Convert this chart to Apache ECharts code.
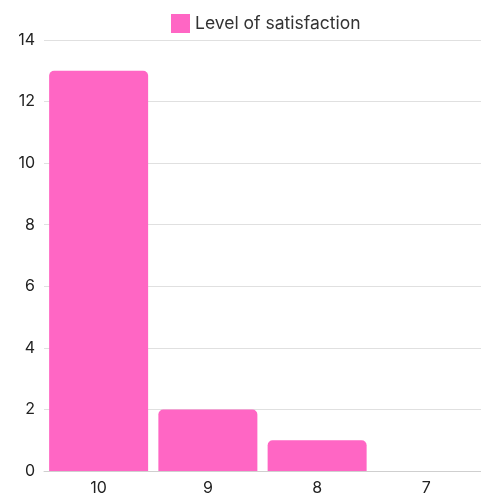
<!DOCTYPE html>
<html>
<head>
<meta charset="utf-8">
<script src="https://cdn.jsdelivr.net/npm/echarts@6/dist/echarts.min.js"></script>
<style>
  html, body { margin: 0; padding: 0; background: #fff; }
  #chart { width: 481px; height: 498px; }
</style>
</head>
<body>
<div id="chart"></div>
<script>
// satisfaction scores and how many answered each
const categories = ['10', '9', '8', '7']
const counts = [13, 2, 1, 0]
const seriesName = 'Level of satisfaction'
const yTicks = { min: 0, max: 14, interval: 2 }

const chart = echarts.init(document.getElementById('chart'))

chart.setOption({
  animation: false,
  textStyle: { fontFamily: 'Inter' },
  legend: {
    left: 166,
    top: 9,
    itemWidth: 19,
    itemHeight: 19,
    itemGap: 6,
    icon: 'rect',
    textStyle: { fontSize: 17.5, color: '#333', fontFamily: 'Inter' },
    data: [seriesName]
  },
  grid: { left: 44, right: -4, top: 40, bottom: 27, containLabel: false },
  xAxis: {
    type: 'category',
    data: categories,
    axisTick: { show: false },
    axisLine: { lineStyle: { color: '#cfcfcf', width: 1 } },
    axisLabel: { fontSize: 16, color: '#222', margin: 9 }
  },
  yAxis: {
    type: 'value',
    min: yTicks.min,
    max: yTicks.max,
    interval: yTicks.interval,
    axisLine: { show: false },
    axisTick: { show: false },
    axisLabel: { fontSize: 16, color: '#222', margin: 9 },
    splitLine: { lineStyle: { color: '#e0e0e0', width: 1 } }
  },
  series: [{
    name: seriesName,
    type: 'bar',
    data: counts,
    barWidth: 99,
    itemStyle: { color: '#ff66c4', borderRadius: [5, 5, 0, 0] }
  }]
})
</script>
</body>
</html>
